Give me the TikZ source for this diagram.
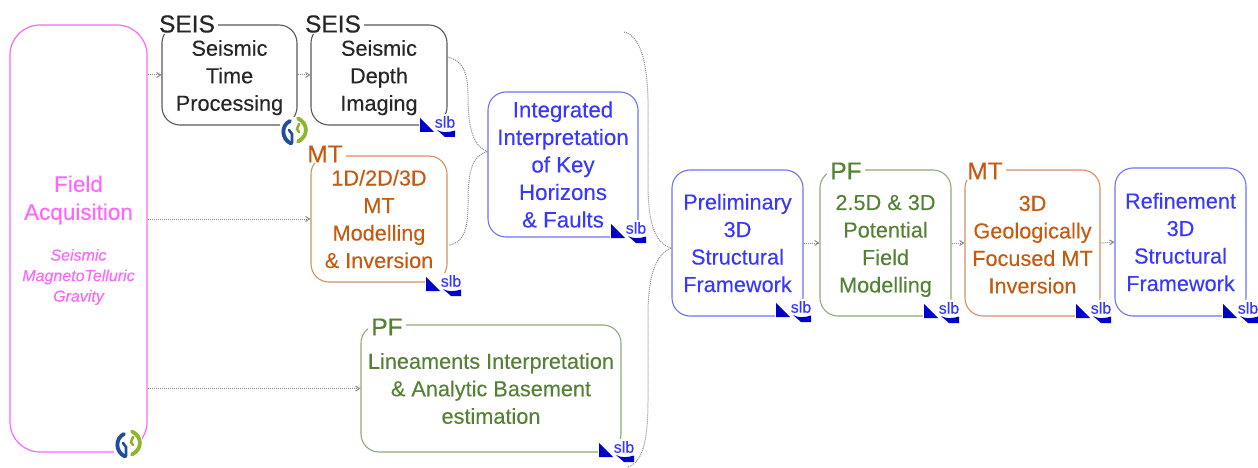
\documentclass[tikz,border=0pt]{standalone}
\usepackage{fontspec}
\setmainfont[FakeBold=0.15]{Liberation Sans}
\newfontfamily\tagfont[FakeBold=0.5]{Liberation Sans}
\usetikzlibrary{arrows.meta,calc}
\definecolor{pinkc}{HTML}{FF66FF}
\definecolor{blackc}{HTML}{262626}
\definecolor{greyb}{HTML}{595959}
\definecolor{oranget}{HTML}{C55A11}
\definecolor{orangeb}{HTML}{D98E60}
\definecolor{greent}{HTML}{548235}
\definecolor{greenb}{HTML}{8FAA7C}
\definecolor{bluet}{HTML}{3838FF}
\definecolor{blueb}{HTML}{7070FF}
\definecolor{logob}{HTML}{0000CC}
\definecolor{logodb}{HTML}{1F4E9A}
\definecolor{logog}{HTML}{8DB62E}
\definecolor{linkc}{HTML}{8A8A8A}
\tikzset{
  x=1pt,y=-1pt,
  boxn/.style={draw,line width=1.1pt,rounded corners=18pt,align=center,inner sep=0pt,font=\fontsize{21.7}{27.5}\selectfont},
  seisbox/.style={boxn,draw=greyb,text=blackc},
  mtbox/.style={boxn,draw=orangeb,text=oranget},
  pfbox/.style={boxn,draw=greenb,text=greent},
  intbox/.style={boxn,draw=blueb,text=bluet},
  tagn/.style={fill=white,inner ysep=1pt,inner xsep=3pt,font=\tagfont\fontsize{24.5}{24.5}\selectfont},
  link/.style={densely dotted,line width=1pt,draw=linkc},
  flow/.style={link,-{Straight Barb[length=4pt,width=5pt,linkc]}},
  slblogo/.pic={
    \fill[white] (-17,-6) rectangle (20,18);
    \fill[logob] (-16,-2) -- (-2,12) -- (-16,12) -- cycle;
    \node[text=bluet,font=\fontsize{16}{16}\selectfont,inner sep=0pt] at (9,2) {slb};
    \fill[logob] (1,10) .. controls (6,13) and (13,12.5) .. (19,10.5) -- (19,17) -- (9,17) -- cycle;
  },
  knotlogo/.pic={
    \fill[white] (-14,-14) rectangle (14,16);
    \draw[logodb,line width=3.8pt,line cap=round] (-4,-10) .. controls (-13,-6) and (-13,8) .. (-3,12.5);
    \draw[logodb,line width=2.6pt,line cap=round] (-5,-1) -- (-2,3) -- (-2,12);
    \draw[logog,line width=3.8pt,line cap=round] (4,-12.5) .. controls (14,-8) and (15,5) .. (4,10.5);
    \draw[logog,line width=2.6pt,line cap=round] (5,-7) -- (3,-2) -- (5,1);
  },
}
\begin{document}
\begin{tikzpicture}
\useasboundingbox[fill=white] (0,0) rectangle (1258,468);

\node[draw=pinkc,line width=1.2pt,rounded corners=30pt,minimum width=137pt,minimum height=427pt] (field) at (78.5,238.5) {};
\node[text=pinkc,align=center,inner sep=0pt,font=\fontsize{22.5}{28}\selectfont] (fieldt) at (78.5,200) {Field\\Acquisition};
\node[text=pinkc,align=center,inner sep=0pt,font=\itshape\fontsize{16}{20.5}\selectfont] (fieldsub) at (78.5,277) {Seismic\\MagnetoTelluric\\Gravity};

\node[seisbox,minimum width=135pt,minimum height=100pt] (time) at (229.5,75) {\rule{0pt}{21pt}Seismic\\Time\\Processing};
\node[seisbox,minimum width=136pt,minimum height=100pt] (depth) at (379,75) {\rule{0pt}{21pt}Seismic\\Depth\\Imaging};
\node[mtbox,minimum width=136pt,minimum height=126pt] (mt1) at (379,219) {1D/2D/3D\\MT\\Modelling\\\& Inversion};
\node[intbox,font=\fontsize{22.3}{27.5}\selectfont,minimum width=150pt,minimum height=145pt] (integ) at (563,164.5) {Integrated\\Interpretation\\of Key\\Horizons\\\& Faults};
\node[pfbox,minimum width=260pt,minimum height=127pt] (linea) at (491,388.5) {Lineaments Interpretation\\\& Analytic Basement\\estimation};
\node[intbox,minimum width=131pt,minimum height=146pt] (prelim) at (737.5,243) {Preliminary\\3D\\Structural\\Framework};
\node[pfbox,minimum width=131pt,minimum height=146pt] (pot) at (885.5,243) {\rule{0pt}{21pt}2.5D \& 3D\\Potential\\Field\\Modelling};
\node[mtbox,minimum width=135pt,minimum height=146pt] (geo) at (1032.5,243) {\rule{0pt}{18.5pt}3D\\Geologically\\Focused MT\\Inversion};
\node[intbox,minimum width=131pt,minimum height=148pt] (refine) at (1180.5,242) {Refinement\\3D\\Structural\\Framework};

\node[tagn,text=blackc] (tag1) at (187,24) {SEIS};
\node[tagn,text=blackc] (tag2) at (333,24) {SEIS};
\node[tagn,text=oranget] (tag3) at (325,154) {MT};
\node[tagn,text=greent] (tag4) at (387,327) {PF};
\node[tagn,text=greent] (tag5) at (846,171) {PF};
\node[tagn,text=oranget] (tag6) at (985,171) {MT};

% connectors
\draw[flow] (field.east |- time.west) -- (time.west);
\draw[flow] (time.east) -- (depth.west);
\draw[flow] (field.east |- mt1.west) -- (mt1.west);
\draw[flow] (field.east |- linea.west) -- (linea.west);
\draw[flow] (prelim.east) -- (pot.west);
\draw[flow] (pot.east) -- (geo.west);
\draw[flow] (geo.east) -- (refine.west);

\coordinate (dout) at ($(depth.east)+(0,-18)$);
\coordinate (mout) at ($(mt1.east)+(2,26)$);
\coordinate (iin) at ($(integ.west)+(0,-13)$);
\draw[link] (dout) .. controls (462,60) and (468,72) .. (468,95) .. controls (468,125) and (472,146) .. (iin);
\draw[link] (mout) .. controls (462,243) and (468,232) .. (468,205) .. controls (468,170) and (472,156) .. (iin);

\coordinate (bigtop) at (624,32);
\coordinate (bigbot) at (628,467);
\coordinate (pin) at ($(prelim.west)+(0,5)$);
\draw[link] (bigtop) .. controls (640,36) and (647,60) .. (648,100) -- (648,190) .. controls (649,225) and (655,243) .. (pin);
\draw[link] (bigbot) .. controls (643,462) and (648,440) .. (648,400) -- (648,310) .. controls (649,275) and (655,255) .. (pin);

% logos
\pic at (436,120) {slblogo};
\pic at (442,279) {slblogo};
\pic at (627,226) {slblogo};
\pic at (615,445) {slblogo};
\pic at (792,305) {slblogo};
\pic at (940,306) {slblogo};
\pic at (1092,306) {slblogo};
\pic at (1239,306) {slblogo};
\pic at (294,131) {knotlogo};
\pic at (128,444) {knotlogo};
\end{tikzpicture}
\end{document}
